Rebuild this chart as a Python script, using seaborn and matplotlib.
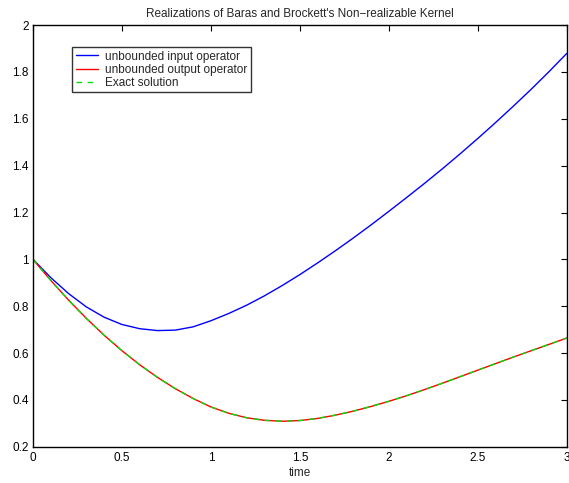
import numpy as np
import pandas as pd
import matplotlib
matplotlib.use("Agg")
import matplotlib.pyplot as plt
import seaborn as sns
from matplotlib.ticker import FormatStrFormatter

# values
time = [0.0, 0.1, 0.2, 0.3, 0.4, 0.5, 0.6, 0.7, 0.8, 0.9, 1.0,
        1.1, 1.2, 1.3, 1.4, 1.5, 1.6, 1.7, 1.8, 1.9, 2.0,
        2.1, 2.2, 2.3, 2.4, 2.5, 2.6, 2.7, 2.8, 2.9, 3.0]
input_op = [1.000, 0.922, 0.854, 0.797, 0.753, 0.722, 0.704, 0.696, 0.698, 0.712, 0.738,
            0.769, 0.804, 0.844, 0.888, 0.935, 0.985, 1.037, 1.091, 1.147, 1.205,
            1.264, 1.324, 1.386, 1.450, 1.516, 1.584, 1.654, 1.726, 1.801, 1.879]
output_op = [1.000, 0.910, 0.826, 0.748, 0.676, 0.610, 0.550, 0.496, 0.448, 0.406, 0.370,
             0.343, 0.324, 0.313, 0.309, 0.312, 0.321, 0.335, 0.352, 0.372, 0.394,
             0.418, 0.444, 0.471, 0.499, 0.527, 0.555, 0.583, 0.610, 0.637, 0.664]
exact = [1.000, 0.910, 0.826, 0.748, 0.676, 0.610, 0.550, 0.496, 0.448, 0.406, 0.370,
         0.343, 0.324, 0.313, 0.309, 0.312, 0.321, 0.335, 0.352, 0.372, 0.394,
         0.418, 0.444, 0.471, 0.499, 0.527, 0.555, 0.583, 0.610, 0.637, 0.664]

sns.set_theme(style="white")
plt.rcParams['font.family'] = ['Liberation Sans', 'DejaVu Sans']

fig = plt.figure(figsize=(5.69, 4.83), dpi=100)
ax = fig.add_axes([0.058, 0.075, 0.938, 0.873])

sns.lineplot(x=time, y=input_op, ax=ax, color='#0000ff', lw=1.0,
             label='unbounded input operator')
sns.lineplot(x=time, y=output_op, ax=ax, color='#ff0000', lw=1.0,
             label='unbounded output operator')
sns.lineplot(x=time, y=exact, ax=ax, color='#00e000', lw=1.0,
             label='Exact solution')
ax.lines[-1].set_linestyle((0, (4, 4)))

ax.set_xlim(0, 3)
ax.set_ylim(0.2, 2)
ax.set_xticks(np.arange(0, 3.01, 0.5))
ax.set_yticks(np.arange(0.2, 2.01, 0.2))
ax.xaxis.set_major_formatter(FormatStrFormatter('%g'))
ax.yaxis.set_major_formatter(FormatStrFormatter('%g'))
ax.tick_params(direction='in', length=4, width=0.8, colors='black',
               labelsize=8.5, top=True, right=True, pad=3)
ax.tick_params(axis='x', pad=4)
for s in ax.spines.values():
    s.set_color('black')
    s.set_linewidth(1.0)

ax.set_title("Realizations of Baras and Brockett's Non\u2212realizable Kernel",
             fontsize=8.5, pad=6)
ax.set_xlabel('time', fontsize=8.5, labelpad=2)
ax.set_ylabel('')

leg = ax.legend(loc='upper left', bbox_to_anchor=(0.073, 0.948), fontsize=8.5,
                frameon=True, fancybox=False, borderpad=0.3, labelspacing=0.1,
                handlelength=1.9, handletextpad=0.6, borderaxespad=0)
leg.get_frame().set_edgecolor('black')
leg.get_frame().set_linewidth(1.0)
for h in leg.get_lines():
    h.set_linewidth(1.0)
leg.get_lines()[-1].set_linestyle((0, (4, 4)))

fig.savefig('out.png', dpi=100)
